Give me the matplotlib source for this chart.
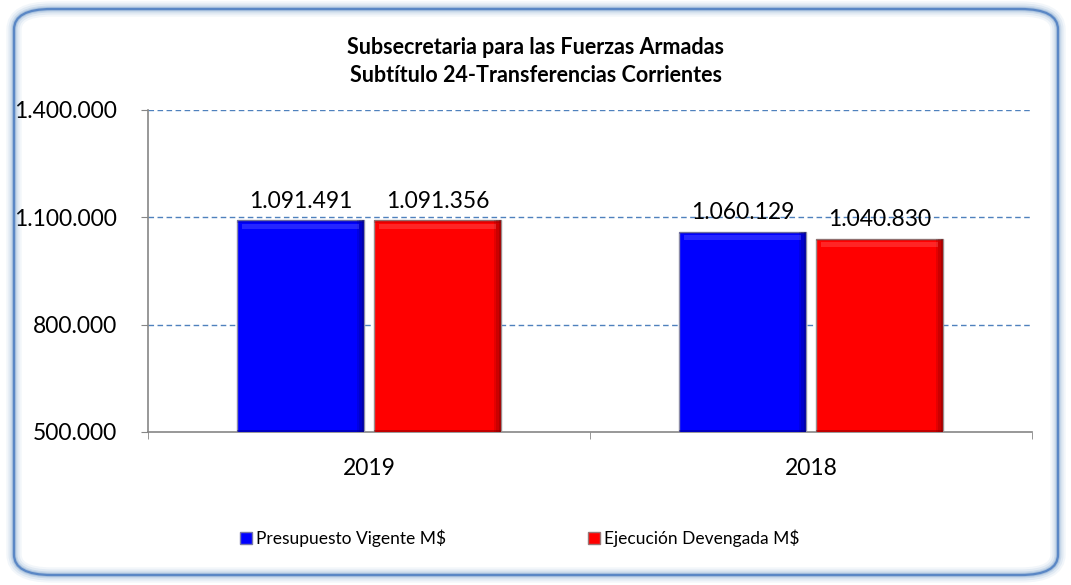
import matplotlib
matplotlib.use("Agg")
import matplotlib.pyplot as plt
from matplotlib.patches import FancyBboxPatch, Rectangle, Patch
import numpy as np

categories = ["2019", "2018"]
presupuesto = [1091491, 1060129]
ejecucion = [1091356, 1040830]
series_names = ["Presupuesto Vigente M$", "Ejecución Devengada M$"]
yticks = [500000, 800000, 1100000, 1400000]
title_lines = ["Subsecretaria para las Fuerzas Armadas", "Subtítulo 24-Transferencias Corrientes"]

def fmt(v):
    return f"{v:,.0f}".replace(",", ".")

plt.rcParams['font.family'] = ['Lato', 'DejaVu Sans']

fig = plt.figure(figsize=(10.71, 5.85), dpi=100)
fig.patch.set_facecolor("white")

# rounded border with glow
for lw, a in [(11, 0.07), (8, 0.10), (5, 0.16), (3, 0.25)]:
    fig.patches.append(FancyBboxPatch((14/1071, 10/585), 1044/1071, 566/585,
                                      boxstyle="round,pad=0,rounding_size=0.035",
                                      transform=fig.transFigure, fill=False,
                                      edgecolor="#4F81BD", linewidth=lw, alpha=a))
fig.patches.append(FancyBboxPatch((14/1071, 10/585), 1044/1071, 566/585,
                                  boxstyle="round,pad=0,rounding_size=0.035",
                                  transform=fig.transFigure, fill=False,
                                  edgecolor="#5A87C5", linewidth=1.6))

ax = fig.add_axes([148/1071, 1 - 432/585, (1032-148)/1071, (432-110)/585])
ax.set_xlim(-0.5, 1.5)
ax.set_ylim(500000, 1400000)

x = np.arange(len(categories))
w = 0.287
gap = 0.0115
colors = ["#0000FF", "#FF0000"]
dark = ["#00006A", "#6A0000"]
bars1 = ax.bar(x - w/2 - gap, presupuesto, w, color=colors[0], edgecolor="#8C8CA8", linewidth=1.0, zorder=3)
bars2 = ax.bar(x + w/2 + gap, ejecucion, w, color=colors[1], edgecolor="#9A8C8C", linewidth=1.0, zorder=3)

# bevel effect
for bars, dk, c in [(bars1, dark[0], colors[0]), (bars2, dark[1], colors[1])]:
    for b in bars:
        bx, by, bw, bh = b.get_x(), b.get_y(), b.get_width(), b.get_height()
        top = by + bh
        for i, a in enumerate([0.55, 0.35, 0.18]):
            ax.add_patch(Rectangle((bx + bw - bw*0.018*(i+1), by), bw*0.018, bh,
                                   color=dk, alpha=a, zorder=4, linewidth=0))
        ax.add_patch(Rectangle((bx, 500000), bw, 6000, color=dk, alpha=0.4, zorder=4, linewidth=0))
        ax.add_patch(Rectangle((bx + bw*0.04, top - 24000), bw*0.92, 14000,
                               color="white", alpha=0.15, zorder=4, linewidth=0))
        ax.add_patch(Rectangle((bx, top - 7000), bw, 7000, color=dk, alpha=0.2, zorder=4, linewidth=0))

for bars, vals in [(bars1, presupuesto), (bars2, ejecucion)]:
    for b, v in zip(bars, vals):
        ax.text(b.get_x() + b.get_width()/2, v + 24000, fmt(v), ha="center", va="bottom",
                fontsize=16.5, color="black", zorder=6)

ax.set_yticks(yticks)
ax.set_yticklabels([fmt(v) for v in yticks], fontsize=16.5)
ax.set_xticks(x)
ax.set_xticklabels(categories, fontsize=16.5)
ax.set_xticks([-0.5, 0.5, 1.5], minor=True)
ax.tick_params(axis="x", which="major", length=0, pad=19)
ax.tick_params(axis="x", which="minor", length=5, color="#868686", direction="out")
ax.tick_params(axis="y", length=5, color="#868686", direction="out", pad=17)

for yv in yticks[1:]:
    ax.axhline(yv, color="#4F81BD", linestyle=(0, (4, 2.5)), linewidth=1.0, zorder=1)

for s in ["top", "right"]:
    ax.spines[s].set_visible(False)
ax.spines["left"].set_color("#868686")
ax.spines["bottom"].set_color("#868686")
ax.spines["left"].set_linewidth(1.2)
ax.spines["bottom"].set_linewidth(1.2)

fig.text(0.5, 1 - 47/585, title_lines[0], ha="center", va="center", fontsize=15.5, fontweight="bold")
fig.text(0.5, 1 - 75/585, title_lines[1], ha="center", va="center", fontsize=15.5, fontweight="bold")

handles = [Patch(facecolor=colors[0], edgecolor="#7777AA"), Patch(facecolor=colors[1], edgecolor="#997777")]
fig.legend(handles, series_names, loc="center left", bbox_to_anchor=(240/1071, 1 - 538/585), ncol=2,
           frameon=False, fontsize=12.5, handlelength=0.7, handleheight=0.7, handletextpad=0.2,
           columnspacing=8.2, borderpad=0, borderaxespad=0)

fig.savefig("out.png", dpi=100)
